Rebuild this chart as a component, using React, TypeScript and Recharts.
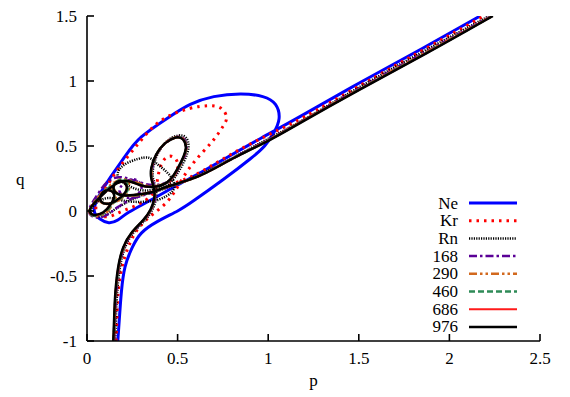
import { LineChart, Line, XAxis, YAxis, Legend } from "recharts";

type Pt = [number, number];

const pTicks = [0, 0.5, 1, 1.5, 2, 2.5];
const qTicks = [-1, -0.5, 0, 0.5, 1, 1.5];

// (p, q) points, in the order the curves run
const ne: Pt[] = [
  [0.17, -1.0], [0.18, -0.8], [0.19, -0.62], [0.21, -0.43], [0.25, -0.28], [0.3, -0.17],
  [0.39, -0.08], [0.5, 0.0], [0.59, 0.08], [0.75, 0.24], [0.9, 0.4], [0.98, 0.5],
  [1.03, 0.6], [1.06, 0.71], [1.04, 0.82], [0.97, 0.88], [0.85, 0.9], [0.7, 0.88],
  [0.57, 0.82], [0.45, 0.72], [0.3, 0.57], [0.21, 0.42], [0.12, 0.24], [0.06, 0.1],
  [0.04, 0.0], [0.07, -0.06], [0.12, -0.09], [0.17, -0.07], [0.23, -0.01], [0.36, 0.09],
  [0.5, 0.2], [0.62, 0.29], [0.77, 0.41], [0.96, 0.56], [1.18, 0.73], [1.51, 0.99],
  [1.85, 1.25], [2.17, 1.5],
];

const kr: Pt[] = [
  [0.16, -1.0], [0.165, -0.82], [0.17, -0.66], [0.19, -0.45], [0.23, -0.27], [0.28, -0.14],
  [0.35, -0.04], [0.42, 0.04], [0.47, 0.12], [0.51, 0.21], [0.56, 0.32], [0.63, 0.44],
  [0.7, 0.55], [0.75, 0.65], [0.77, 0.72], [0.74, 0.79], [0.67, 0.81], [0.57, 0.79],
  [0.45, 0.73], [0.36, 0.64], [0.29, 0.53], [0.22, 0.41], [0.15, 0.28], [0.1, 0.17],
  [0.06, 0.08], [0.05, 0.0], [0.08, -0.04], [0.13, -0.04], [0.18, -0.01], [0.25, 0.03],
  [0.32, 0.08], [0.37, 0.15], [0.39, 0.25], [0.41, 0.36], [0.45, 0.42], [0.49, 0.4],
  [0.5, 0.33], [0.47, 0.25], [0.45, 0.2], [0.55, 0.25], [0.64, 0.31], [0.8, 0.44],
  [1.0, 0.585], [1.2, 0.725], [1.5, 0.96], [1.85, 1.235], [2.19, 1.5],
];

const rn: Pt[] = [
  [0.155, -1.0], [0.16, -0.82], [0.165, -0.66], [0.18, -0.45], [0.21, -0.28], [0.26, -0.16],
  [0.32, -0.07], [0.36, 0.01], [0.38, 0.09], [0.38, 0.17], [0.365, 0.25], [0.365, 0.33],
  [0.39, 0.44], [0.44, 0.535], [0.5, 0.58], [0.545, 0.565], [0.56, 0.49], [0.535, 0.38],
  [0.49, 0.27], [0.44, 0.2], [0.37, 0.165], [0.3, 0.16], [0.22, 0.2], [0.17, 0.27],
  [0.2, 0.35], [0.28, 0.4], [0.34, 0.41], [0.38, 0.37], [0.44, 0.3], [0.48, 0.22],
  [0.47, 0.15], [0.4, 0.09], [0.3, 0.07], [0.2, 0.08], [0.12, 0.1], [0.06, 0.07],
  [0.025, 0.02], [0.03, -0.03], [0.08, -0.04], [0.14, 0.0], [0.21, 0.06], [0.3, 0.12],
  [0.4, 0.16], [0.5, 0.21], [0.64, 0.29], [0.82, 0.42], [1.0, 0.555], [1.2, 0.705],
  [1.5, 0.95], [1.86, 1.23], [2.22, 1.5],
];

const e168: Pt[] = [
  [0.15, -1.0], [0.155, -0.82], [0.16, -0.66], [0.175, -0.45], [0.205, -0.28], [0.255, -0.16],
  [0.315, -0.07], [0.355, 0.01], [0.375, 0.09], [0.375, 0.17], [0.36, 0.25], [0.36, 0.33],
  [0.385, 0.435], [0.435, 0.525], [0.495, 0.57], [0.535, 0.555], [0.55, 0.485], [0.525, 0.38],
  [0.485, 0.28], [0.44, 0.22], [0.36, 0.2], [0.27, 0.23], [0.18, 0.26], [0.11, 0.22],
  [0.06, 0.13], [0.02, 0.04], [0.015, -0.02], [0.05, -0.05], [0.11, -0.03], [0.17, 0.03],
  [0.24, 0.09], [0.3, 0.17], [0.27, 0.24], [0.21, 0.22], [0.18, 0.15], [0.23, 0.1],
  [0.31, 0.12], [0.39, 0.155], [0.47, 0.195], [0.63, 0.28], [0.81, 0.41], [1.0, 0.55],
  [1.19, 0.695], [1.5, 0.94], [1.87, 1.225], [2.23, 1.5],
];

const e290: Pt[] = [
  [0.148, -1.0], [0.153, -0.82], [0.158, -0.66], [0.173, -0.45], [0.203, -0.28], [0.253, -0.16],
  [0.313, -0.07], [0.353, 0.01], [0.373, 0.09], [0.372, 0.17], [0.358, 0.25], [0.358, 0.33],
  [0.383, 0.433], [0.433, 0.523], [0.493, 0.567], [0.533, 0.552], [0.548, 0.482], [0.523, 0.38],
  [0.483, 0.28], [0.435, 0.215], [0.36, 0.19], [0.28, 0.215], [0.2, 0.24], [0.13, 0.2],
  [0.07, 0.12], [0.025, 0.04], [0.015, -0.015], [0.045, -0.04], [0.1, -0.02], [0.14, 0.05],
  [0.16, 0.13], [0.12, 0.17], [0.075, 0.13], [0.08, 0.065], [0.14, 0.06], [0.2, 0.11],
  [0.235, 0.19], [0.2, 0.245], [0.15, 0.21], [0.16, 0.145], [0.22, 0.12], [0.3, 0.125],
  [0.38, 0.155], [0.46, 0.19], [0.625, 0.275], [0.805, 0.405], [1.0, 0.545],
  [1.185, 0.69], [1.5, 0.935], [1.87, 1.22], [2.235, 1.5],
];

const e460: Pt[] = [
  [0.147, -1.0], [0.152, -0.82], [0.157, -0.66], [0.172, -0.45], [0.202, -0.28], [0.252, -0.16],
  [0.312, -0.07], [0.352, 0.01], [0.372, 0.09], [0.371, 0.17], [0.357, 0.25], [0.357, 0.33],
  [0.382, 0.432], [0.432, 0.522], [0.492, 0.566], [0.532, 0.551], [0.547, 0.481], [0.522, 0.38],
  [0.482, 0.28], [0.433, 0.212], [0.36, 0.187], [0.285, 0.205], [0.21, 0.235], [0.14, 0.2],
  [0.08, 0.125], [0.028, 0.04], [0.015, -0.012], [0.042, -0.035], [0.095, -0.015], [0.135, 0.05],
  [0.155, 0.125], [0.12, 0.165], [0.078, 0.13], [0.082, 0.068], [0.135, 0.06], [0.195, 0.11],
  [0.228, 0.185], [0.195, 0.24], [0.152, 0.205], [0.16, 0.14], [0.22, 0.118], [0.3, 0.128],
  [0.375, 0.153], [0.455, 0.19], [0.622, 0.273], [0.802, 0.403], [1.0, 0.543],
  [1.182, 0.686], [1.5, 0.933], [1.87, 1.215], [2.237, 1.5],
];

const e686: Pt[] = [
  [0.146, -1.0], [0.151, -0.82], [0.156, -0.66], [0.171, -0.45], [0.201, -0.28], [0.251, -0.16],
  [0.311, -0.07], [0.351, 0.01], [0.371, 0.09], [0.37, 0.17], [0.356, 0.25], [0.356, 0.33],
  [0.381, 0.431], [0.431, 0.521], [0.491, 0.565], [0.531, 0.55], [0.546, 0.48], [0.521, 0.38],
  [0.481, 0.28], [0.431, 0.211], [0.36, 0.186], [0.29, 0.2], [0.22, 0.23], [0.15, 0.2],
  [0.09, 0.13], [0.035, 0.055], [0.015, 0.0], [0.04, -0.03], [0.09, -0.012], [0.13, 0.05],
  [0.15, 0.12], [0.12, 0.16], [0.08, 0.13], [0.08, 0.07], [0.13, 0.06], [0.19, 0.11],
  [0.22, 0.18], [0.19, 0.23], [0.15, 0.2], [0.16, 0.14], [0.22, 0.12], [0.3, 0.13],
  [0.37, 0.152], [0.452, 0.19], [0.621, 0.271], [0.801, 0.401], [1.0, 0.541],
  [1.181, 0.683], [1.5, 0.931], [1.87, 1.212], [2.238, 1.5],
];

const e976: Pt[] = [
  [0.145, -1.0], [0.15, -0.82], [0.155, -0.66], [0.17, -0.45], [0.2, -0.28], [0.25, -0.16],
  [0.31, -0.07], [0.35, 0.01], [0.37, 0.09], [0.37, 0.17], [0.355, 0.25], [0.355, 0.33],
  [0.38, 0.43], [0.43, 0.52], [0.49, 0.565], [0.53, 0.55], [0.545, 0.48], [0.52, 0.38],
  [0.48, 0.28], [0.43, 0.21], [0.36, 0.185], [0.29, 0.2], [0.22, 0.23], [0.15, 0.2],
  [0.09, 0.13], [0.04, 0.06], [0.015, 0.0], [0.04, -0.03], [0.09, -0.01], [0.13, 0.05],
  [0.15, 0.12], [0.12, 0.16], [0.08, 0.13], [0.08, 0.07], [0.13, 0.06], [0.19, 0.11],
  [0.22, 0.18], [0.19, 0.23], [0.15, 0.2], [0.16, 0.14], [0.22, 0.12], [0.3, 0.13],
  [0.37, 0.15], [0.45, 0.19], [0.62, 0.27], [0.8, 0.4], [1.0, 0.54],
  [1.18, 0.68], [1.5, 0.93], [1.87, 1.21], [2.24, 1.5],
];

const seriesNames = ["Ne", "Kr", "Rn", "168", "290", "460", "686", "976"];
const seriesPoints = [ne, kr, rn, e168, e290, e460, e686, e976];

const styles = [
  { color: "#0000ff", width: 3, dash: undefined },
  { color: "#ff0000", width: 3, dash: "2.5 5" },
  { color: "#000000", width: 2.5, dash: "1.2 1.2" },
  { color: "#5a0096", width: 2.5, dash: "8 3 2.5 3" },
  { color: "#d2691e", width: 2.5, dash: "8 3 2.5 3 2.5 3" },
  { color: "#2e8b57", width: 2.5, dash: "6 3" },
  { color: "#ff1a1a", width: 2, dash: undefined },
  { color: "#000000", width: 2.5, dash: undefined },
];

const FONT = "Times New Roman, Liberation Serif, DejaVu Serif, serif";

const toRows = (pts: Pt[]) => pts.map(([p, q]) => ({ p, q }));

function KeyBox() {
  const rowH = 17.7;
  return (
    <svg width={140} height={150} style={{ display: "block" }}>
      {seriesNames.map((name, i) => {
        const y = 9 + i * rowH;
        const s = styles[i];
        return (
          <g key={name}>
            <text x={58} y={y + 5.5} textAnchor="end" fontFamily={FONT} fontSize={17} fill="#000">
              {name}
            </text>
            <line x1={69} x2={117} y1={y} y2={y} stroke={s.color} strokeWidth={s.width} strokeDasharray={s.dash} />
          </g>
        );
      })}
    </svg>
  );
}

export default function App() {
  const tickStyle = { fontSize: 17, fill: "#000", fontFamily: FONT };
  const labelStyle = { fontFamily: FONT, fontSize: 17, fill: "#000" };
  return (
    <div style={{ position: "absolute", left: 0, top: 0, width: 570, height: 397, background: "#fff", fontFamily: FONT }}>
      <LineChart width={570} height={397} margin={{ top: 16, right: 30, bottom: 0, left: 0 }}>
        <XAxis
          xAxisId="b"
          dataKey="p"
          type="number"
          domain={[0, 2.5]}
          ticks={pTicks}
          allowDataOverflow
          height={56}
          tickSize={-7}
          tickMargin={18}
          tick={tickStyle}
          stroke="#000"
          strokeWidth={1.6}
          label={{ value: "p", position: "insideBottom", offset: 11, style: labelStyle }}
        />
        <XAxis
          xAxisId="t"
          orientation="top"
          dataKey="p"
          type="number"
          domain={[0, 2.5]}
          ticks={pTicks}
          allowDataOverflow
          height={0}
          tickSize={-7}
          tick={false}
          stroke="#000"
          strokeWidth={1.6}
        />
        <YAxis
          yAxisId="l"
          dataKey="q"
          type="number"
          domain={[-1, 1.5]}
          ticks={qTicks}
          allowDataOverflow
          width={87}
          tickSize={-7}
          tickMargin={17}
          tick={tickStyle}
          stroke="#000"
          strokeWidth={1.6}
          label={{ value: "q", position: "insideLeft", offset: 16, angle: 0, style: labelStyle }}
        />
        <YAxis
          yAxisId="r"
          orientation="right"
          dataKey="q"
          type="number"
          domain={[-1, 1.5]}
          ticks={qTicks}
          allowDataOverflow
          width={0}
          tickSize={-7}
          tick={false}
          stroke="#000"
          strokeWidth={1.6}
        />
        <Legend
          layout="vertical"
          align="center"
          verticalAlign="middle"
          content={() => <KeyBox />}
          wrapperStyle={{ left: 400, top: 194, width: 140, height: 150 }}
        />
        {seriesPoints.map((pts, i) => (
          <Line
            key={seriesNames[i]}
            name={seriesNames[i]}
            xAxisId="b"
            yAxisId="l"
            data={toRows(pts)}
            dataKey="q"
            type="natural"
            stroke={styles[i].color}
            strokeWidth={styles[i].width}
            strokeDasharray={styles[i].dash}
            dot={false}
            activeDot={false}
            isAnimationActive={false}
          />
        ))}
      </LineChart>
    </div>
  );
}
